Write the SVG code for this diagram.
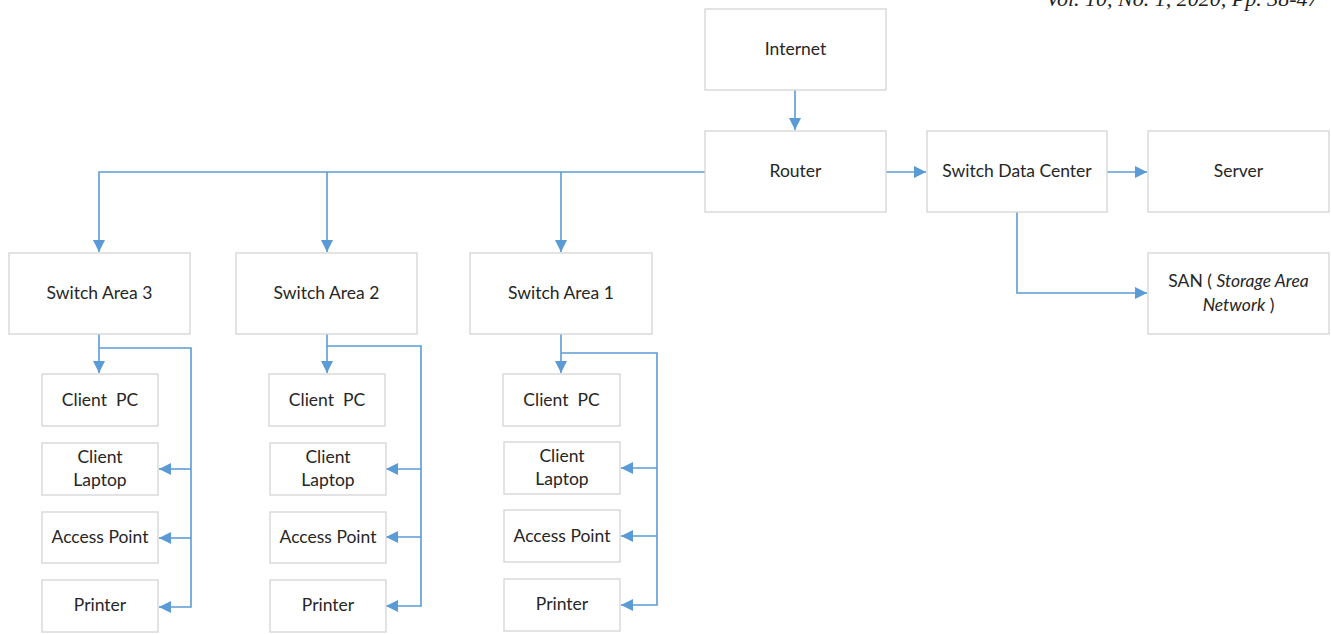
<svg xmlns="http://www.w3.org/2000/svg" width="1331" height="634" viewBox="0 0 1331 634">
<style>
.box{fill:#fff;stroke:#d4d4d4;stroke-width:1.3}
.t{font-family:Lato,"Open Sans",sans-serif;font-size:17.5px;fill:#262626;text-anchor:middle;white-space:pre}
.c{fill:none;stroke:#5b9bd5;stroke-width:1.6}
.hdr{font-family:"Liberation Serif",serif;font-style:italic;font-size:22px;fill:#222}
</style>
<defs>
<marker id="ah" viewBox="0 0 12 12" refX="12" refY="6" markerWidth="12" markerHeight="12" markerUnits="userSpaceOnUse" orient="auto">
<path d="M0,0 L12,6 L0,12 z" fill="#5b9bd5"/>
</marker>
</defs>
<text class="hdr" x="1046" y="6">Vol. 10, No. 1, 2020, Pp. 38-47</text>
<g id="connectors">
<path class="c" d="M795,90 V130" marker-end="url(#ah)"/>
<path class="c" d="M886,172 H926" marker-end="url(#ah)"/>
<path class="c" d="M1107,172 H1147" marker-end="url(#ah)"/>
<path class="c" d="M1017,212 V293 H1147" marker-end="url(#ah)"/>
<path class="c" d="M705,172 H99 V252" marker-end="url(#ah)"/>
<path class="c" d="M327,172 V252" marker-end="url(#ah)"/>
<path class="c" d="M561,172 V252" marker-end="url(#ah)"/>
<path class="c" d="M99,334 V373" marker-end="url(#ah)"/>
<path class="c" d="M99,348 H191 V607 H159" marker-end="url(#ah)"/>
<path class="c" d="M191,469 H159" marker-end="url(#ah)"/>
<path class="c" d="M191,538 H159" marker-end="url(#ah)"/>
<path class="c" d="M327,334 V373" marker-end="url(#ah)"/>
<path class="c" d="M327,346 H421 V606 H386" marker-end="url(#ah)"/>
<path class="c" d="M421,469 H386" marker-end="url(#ah)"/>
<path class="c" d="M421,537 H386" marker-end="url(#ah)"/>
<path class="c" d="M561,334 V373" marker-end="url(#ah)"/>
<path class="c" d="M561,353 H657 V605 H621" marker-end="url(#ah)"/>
<path class="c" d="M657,468 H621" marker-end="url(#ah)"/>
<path class="c" d="M657,536 H621" marker-end="url(#ah)"/>
</g>
<g id="internet"><rect class="box" x="705" y="9" width="181" height="81"/><text class="t" x="795.5" y="55">Internet</text></g>
<g id="router"><rect class="box" x="705" y="131" width="181" height="81"/><text class="t" x="795.5" y="177">Router</text></g>
<g id="switch-dc"><rect class="box" x="927" y="131" width="180" height="81"/><text class="t" x="1017" y="177">Switch Data Center</text></g>
<g id="server"><rect class="box" x="1148" y="131" width="181" height="81"/><text class="t" x="1238.5" y="177">Server</text></g>
<g id="san"><rect class="box" x="1148" y="253" width="181" height="81"/><text class="t" x="1238.5" y="287">SAN ( <tspan font-style="italic">Storage Area</tspan></text><text class="t" x="1238.5" y="311"><tspan font-style="italic">Network</tspan> )</text></g>
<g id="switch-area-3"><rect class="box" x="9" y="253" width="181" height="81"/><text class="t" x="99.5" y="299">Switch Area 3</text></g>
<g id="switch-area-2"><rect class="box" x="236" y="253" width="181" height="81"/><text class="t" x="326.5" y="299">Switch Area 2</text></g>
<g id="switch-area-1"><rect class="box" x="470" y="253" width="182" height="81"/><text class="t" x="561" y="299">Switch Area 1</text></g>
<g id="a3-client-pc"><rect class="box" x="42" y="374" width="116" height="52"/><text class="t" x="100" y="406">Client  PC</text></g>
<g id="a3-client-laptop"><rect class="box" x="42" y="443" width="116" height="52"/><text class="t" x="100" y="463">Client</text><text class="t" x="100" y="486">Laptop</text></g>
<g id="a3-access-point"><rect class="box" x="42" y="512" width="116" height="51"/><text class="t" x="100" y="543">Access Point</text></g>
<g id="a3-printer"><rect class="box" x="42" y="580" width="116" height="52"/><text class="t" x="100" y="611">Printer</text></g>
<g id="a2-client-pc"><rect class="box" x="269" y="374" width="116" height="52"/><text class="t" x="327" y="406">Client  PC</text></g>
<g id="a2-client-laptop"><rect class="box" x="270" y="443" width="116" height="52"/><text class="t" x="328" y="463">Client</text><text class="t" x="328" y="486">Laptop</text></g>
<g id="a2-access-point"><rect class="box" x="270" y="512" width="116" height="51"/><text class="t" x="328" y="543">Access Point</text></g>
<g id="a2-printer"><rect class="box" x="270" y="580" width="116" height="52"/><text class="t" x="328" y="611">Printer</text></g>
<g id="a1-client-pc"><rect class="box" x="503" y="374" width="117" height="52"/><text class="t" x="561.5" y="406">Client  PC</text></g>
<g id="a1-client-laptop"><rect class="box" x="504" y="442" width="116" height="52"/><text class="t" x="562" y="462">Client</text><text class="t" x="562" y="485">Laptop</text></g>
<g id="a1-access-point"><rect class="box" x="504" y="510" width="116" height="52"/><text class="t" x="562" y="542">Access Point</text></g>
<g id="a1-printer"><rect class="box" x="504" y="579" width="116" height="52"/><text class="t" x="562" y="610">Printer</text></g>
</svg>
